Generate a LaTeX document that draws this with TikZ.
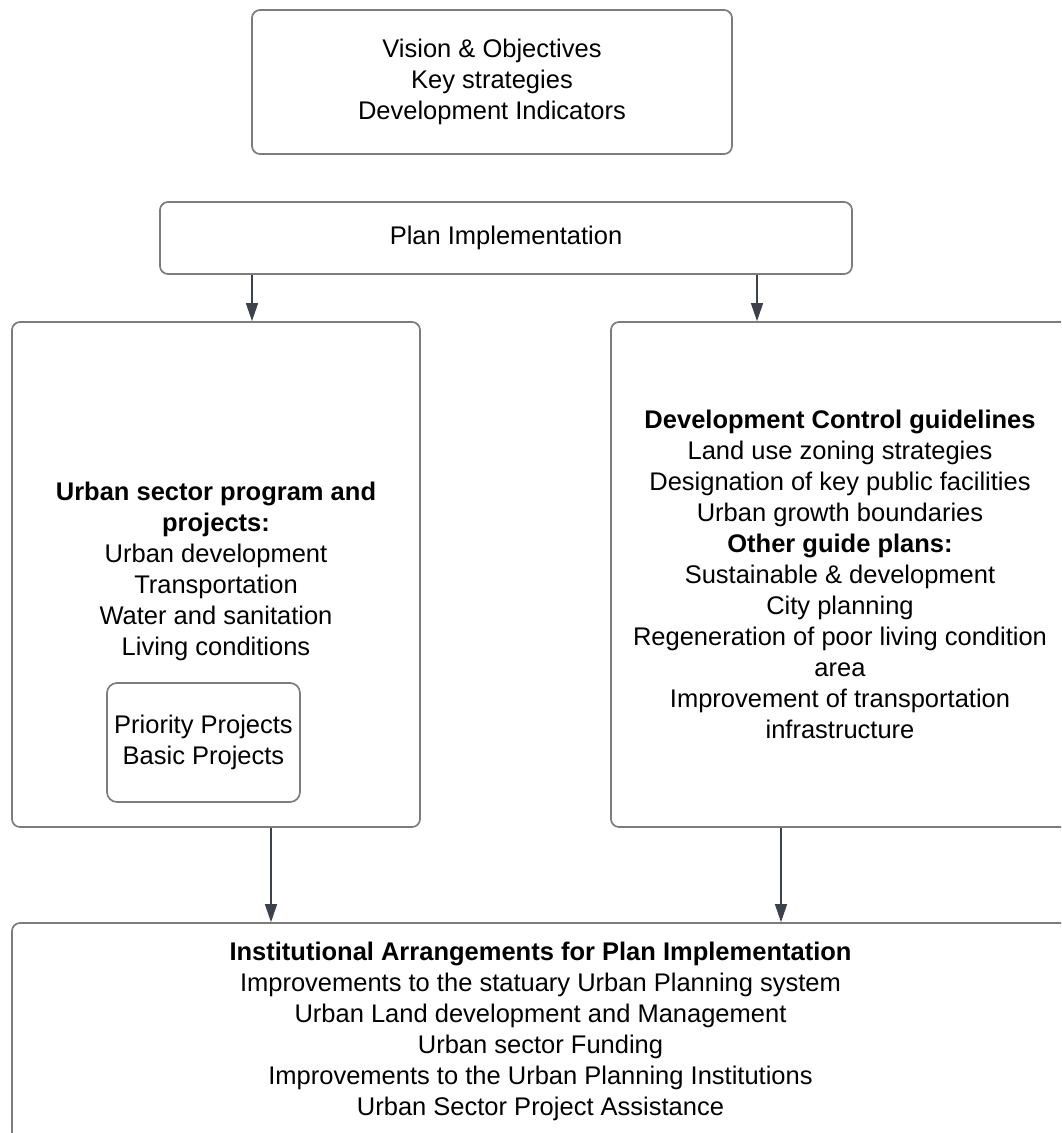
\documentclass[tikz,border=0pt]{standalone}
\usepackage{fontspec}
\setmainfont{Liberation Sans}
\usetikzlibrary{arrows.meta}
\definecolor{boxGray}{HTML}{7C7C7C}
\definecolor{arrowSlate}{HTML}{3C424C}
\tikzset{
    PlanBox/.style={draw=boxGray, line width=1.7pt, rounded corners=8pt, align=center, inner sep=0pt, font=\fontsize{25.5}{31}\selectfont},
    PlanText/.style={align=center, inner sep=0pt, font=\fontsize{25.5}{31}\selectfont},
    FlowArrow/.style={-{Triangle[length=18pt, width=12pt]}, draw=arrowSlate, line width=1.3pt}
}

\begin{document}
\begin{tikzpicture}[x=1pt, y=-1pt]
    \clip (0,0) rectangle (1061,1133);

    \node[PlanBox, minimum width=480pt, minimum height=144pt] (vision) at (492,82)
        {Vision \& Objectives\\Key strategies\\Development Indicators};
    \node[PlanBox, minimum width=692pt, minimum height=72pt] (plan) at (506,238) {Plan Implementation};

    % left column: sector programs
    \node[PlanBox, minimum width=408pt, minimum height=505pt] (sector) at (216,574.5) {};
    \node[PlanText, anchor=base] (sectorText) at (216,655)
        {\textbf{Urban sector program and}\\\textbf{projects:}\\Urban development\\Transportation\\Water and sanitation\\Living conditions};
    \node[PlanBox, rounded corners=10pt, minimum width=193pt, minimum height=119pt] (priority) at (203.5,742.5)
        {Priority Projects\\Basic Projects};

    % right column: guidelines
    \node[PlanBox, minimum width=458pt, minimum height=505pt] (control) at (840,574.5)
        {\textbf{Development Control guidelines}\\Land use zoning strategies\\Designation of key public facilities\\Urban growth boundaries\\\textbf{Other guide plans:}\\Sustainable \& development\\City planning\\Regeneration of poor living condition\\area\\Improvement of transportation\\infrastructure};

    \node[PlanBox, minimum width=1057pt, minimum height=217pt] (institution) at (540.5,1031.5)
        {\textbf{Institutional Arrangements for Plan Implementation}\\Improvements to the statuary Urban Planning system\\Urban Land development and Management\\Urban sector Funding\\Improvements to the Urban Planning Institutions\\Urban Sector Project Assistance};

    \coordinate (upLeft) at (252,0);
    \coordinate (upRight) at (757,0);
    \coordinate (downLeft) at (271,0);
    \coordinate (downRight) at (781,0);

    \draw[FlowArrow] (upLeft |- plan.south) -- (upLeft |- sector.north);
    \draw[FlowArrow] (upRight |- plan.south) -- (upRight |- control.north);
    \draw[FlowArrow] (downLeft |- sector.south) -- (downLeft |- institution.north);
    \draw[FlowArrow] (downRight |- control.south) -- (downRight |- institution.north);
\end{tikzpicture}
\end{document}
